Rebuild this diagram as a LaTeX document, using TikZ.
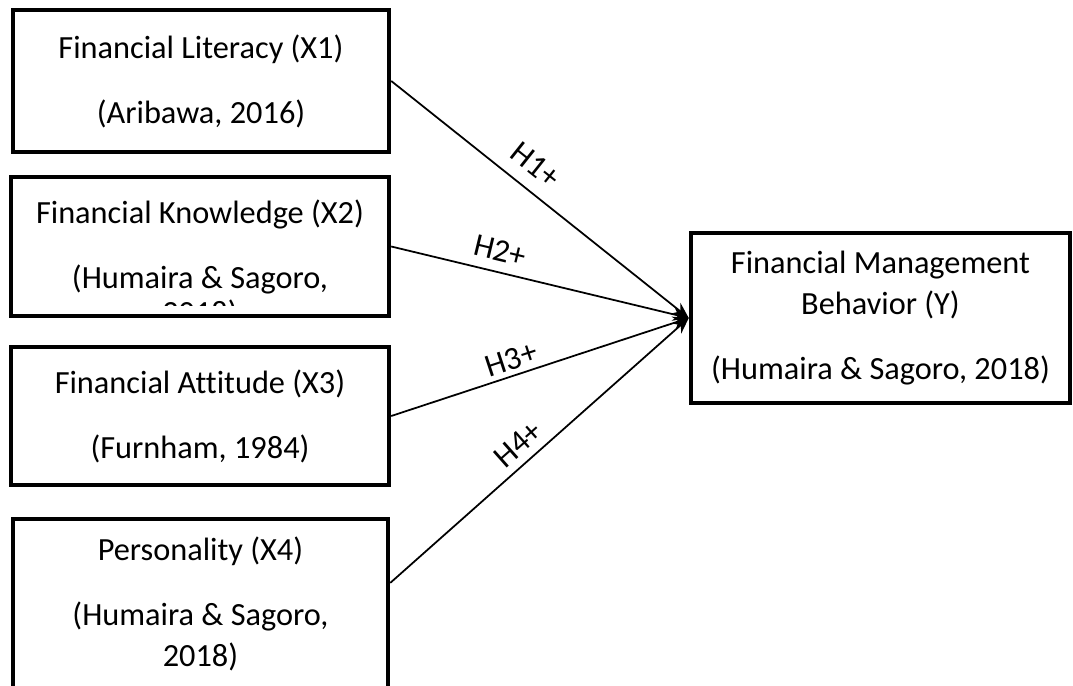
\documentclass[tikz,border=0pt]{standalone}
\usepackage{fontspec}
\setmainfont{Carlito}[Ligatures=NoCommon]
\usetikzlibrary{arrows.meta}

\begin{document}
\begin{tikzpicture}[x=0.02cm, y=-0.02cm,
  varbox/.style={draw, line width=2.6pt, rectangle, align=center,
    font=\fontsize{18.4}{23}\selectfont},
  link/.style={line width=1pt, -{Stealth[length=9pt, width=7.5pt]}},
  hyp/.style={font=\fontsize{18.4}{23}\selectfont, sloped, inner sep=0pt}]

  \useasboundingbox (0,0) rectangle (1073,686);

  % ---- independent variables ----
  \node[varbox, minimum width=7.52cm, minimum height=2.84cm] (x1) at (201,81)
    {Financial Literacy (X1)\\[14pt](Aribawa, 2016)};
  \node[varbox, minimum width=7.56cm, minimum height=2.78cm] (x2) at (200,246.5)
    {Financial Knowledge (X2)\\[14pt](Humaira \& Sagoro,};
  \node[varbox, minimum width=7.56cm, minimum height=2.76cm] (x3) at (200,416)
    {Financial Attitude (X3)\\[14pt](Furnham, 1984)};
  \node[varbox, minimum width=7.5cm, minimum height=3.4cm] (x4) at (200.5,604)
    {Personality (X4)\\[14pt](Humaira \& Sagoro,\\2018)};

  % ---- the year of X2 runs out of its box ----
  \begin{scope}
    \clip (150,290) rectangle (250,305.5);
    \node[font=\fontsize{18.4}{23}\selectfont, anchor=base] (x2year) at (200,323.5) {2018)};
  \end{scope}

  % ---- dependent variable ----
  \node[varbox, minimum width=7.58cm, minimum height=3.4cm] (y) at (880.5,318)
    {Financial Management\\Behavior (Y)\\[14pt](Humaira \& Sagoro, 2018)};

  % ---- hypotheses ----
  \draw[link] (x1.east) -- (y.west) node[hyp, pos=0.435, above=7.4pt] {H1+};
  \draw[link] (x2.east) -- (y.west) node[hyp, pos=0.35, above=5.7pt] {H2+};
  \draw[link] (x3.east) -- (y.west) node[hyp, pos=0.42, above=2.8pt] {H3+};
  \draw[link] ([yshift=12pt]x4.east) -- (y.west) node[hyp, pos=0.47, above=4.5pt] {H4+};

\end{tikzpicture}
\end{document}
